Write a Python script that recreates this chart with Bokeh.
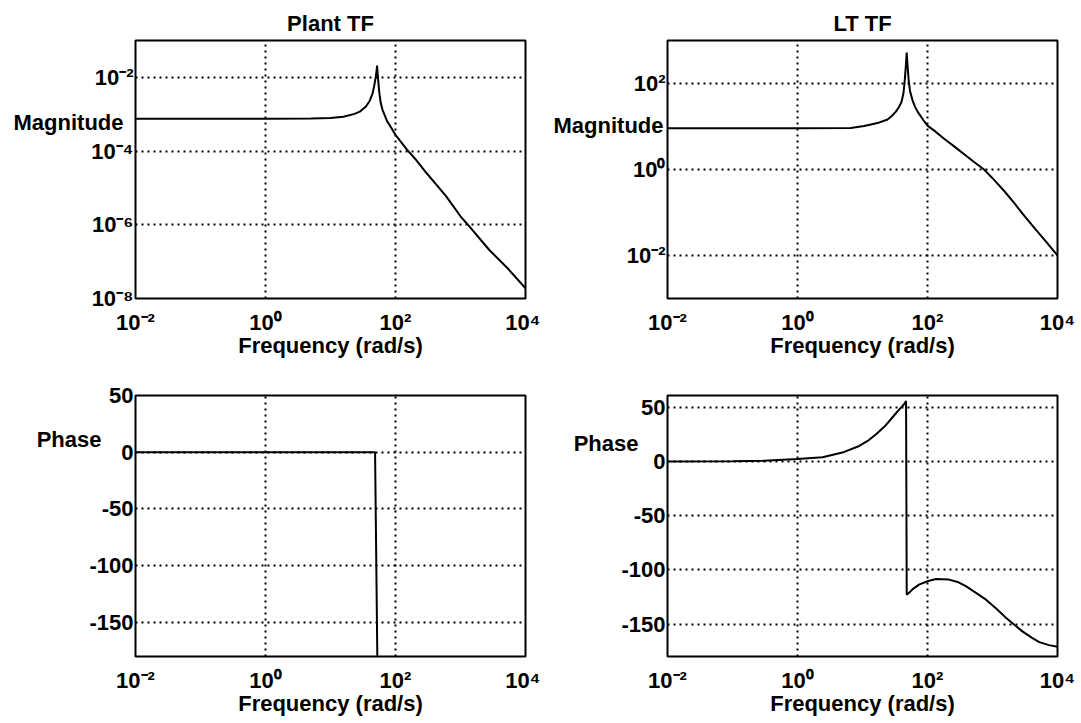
from bokeh.plotting import figure
from bokeh.models import FixedTicker, Range1d, LinearAxis
from bokeh.layouts import gridplot
from bokeh.embed import file_html
from bokeh.resources import INLINE

# ---------------- data ----------------
titles = ["Plant TF", "LT TF"]
x_label = "Frequency (rad/s)"
mag_label = "Magnitude"
phase_label = "Phase"

x_ticks = [1e-2, 1e0, 1e2, 1e4]
x_tick_labels = ["10⁻²", "10⁰", "10²", "10⁴"]

plant_mag_ticks = [1e-8, 1e-6, 1e-4, 1e-2]
plant_mag_tick_labels = ["10⁻⁸", "10⁻⁶", "10⁻⁴", "10⁻²"]
lt_mag_ticks = [1e-2, 1e0, 1e2]
lt_mag_tick_labels = ["10⁻²", "10⁰", "10²"]
phase_ticks = [-150, -100, -50, 0, 50]
phase_tick_labels = ["-150", "-100", "-50", "0", "50"]

plant_mag_freq = [0.01, 1, 5, 10, 15.8, 23.4, 28.2, 35.1, 39.8, 44.4, 46.8,
                  49.8, 51.3, 52.1, 53.1, 54.7, 56.2, 59.3, 63.1, 74.8, 79.4,
                  100, 150, 200, 302, 603, 1000, 1288, 2754, 5495, 10000]
plant_mag = [7.5e-4, 7.5e-4, 7.6e-4, 7.9e-4, 8.5e-4, 1.02e-3, 1.17e-3, 1.62e-3,
             2.24e-3, 3.7e-3, 5.6e-3, 1.05e-2, 1.6e-2, 2.1e-2, 1.3e-2, 6.9e-3,
             4.0e-3, 2.0e-3, 1.32e-3, 6.3e-4, 5.4e-4, 2.75e-4, 1.1e-4, 6.2e-5,
             2.5e-5, 5.9e-6, 1.7e-6, 1.02e-6, 2.1e-7, 6.2e-8, 1.9e-8]

plant_phase_freq = [0.01, 1, 10, 48.5, 52.5]
plant_phase = [0, 0, 0, 0, -180]

lt_mag_freq = [0.01, 1, 6.6, 10.6, 17, 24.3, 28.2, 32.4, 36.3, 39.8, 42.7,
               44.7, 46.8, 47.9, 49.0, 51.3, 54, 58.9, 64, 70.8, 85, 100, 130,
               182, 260, 363, 520, 741, 1050, 1514, 2200, 3090, 4500, 6607,
               10000]
lt_mag = [9.1, 9.1, 9.2, 10.3, 12.0, 14.5, 17.5, 21.9, 28, 37.2, 60,
          120, 300, 525, 300, 120, 65, 40.7, 29, 21.9, 14.5, 10.5, 7.8,
          5.1, 3.4, 2.29, 1.5, 1.0, 0.58, 0.316, 0.16, 0.083, 0.042, 0.0214,
          0.01]

lt_phase_freq = [0.01, 0.1, 0.3, 1.0, 2.43, 4.9, 8.9, 12, 16.2, 22, 28.8, 36,
                 43.7, 46.8, 47.9, 52.5, 60, 74, 100, 135, 214, 300, 389, 550,
                 794, 1150, 1622, 2884, 4000, 5248, 7400, 10000]
lt_phase = [0, 0.3, 0.8, 2.3, 4.0, 8.3, 14.4, 19, 25.3, 32.5, 40.7, 47.5,
            53, 56, -123, -121, -117.5, -113.6, -110.5, -108.4, -109, -111.5,
            -115, -121, -127.5, -136, -144.4, -156.8, -162.5, -166.7, -169.5,
            -171]

# positions of the horizontal side labels (value at their vertical centre)
mag_label_y = [5.8e-4, 10.3]
phase_label_y = [11.4, 16.5]

# ---------------- styling helpers ----------------
FONT = "Liberation Sans"
FS = "22px"


def style_axis(ax):
    ax.axis_line_color = None
    ax.major_tick_line_color = None
    ax.minor_tick_line_color = None
    ax.major_tick_out = 0
    ax.major_tick_in = 0
    ax.minor_tick_out = 0
    ax.minor_tick_in = 0
    ax.major_label_text_font = FONT
    ax.major_label_text_font_size = FS
    ax.major_label_text_font_style = "bold"
    ax.major_label_text_color = "black"


def make_fig(w, h, left, right, top, bottom, ylog, yrange, yticks, ylabels,
             title=None):
    kw = dict(width=w, height=h, x_axis_type="log",
              y_axis_type="log" if ylog else "linear",
              x_range=Range1d(1e-2, 1e4), y_range=Range1d(*yrange),
              output_backend="svg", toolbar_location=None,
              min_border_left=left, min_border_right=right,
              min_border_top=top, min_border_bottom=bottom,
              background_fill_color="white", border_fill_color="white")
    if title is not None:
        kw["title"] = title
    p = figure(**kw)
    if title is not None:
        p.title.align = "center"
        p.title.text_font = FONT
        p.title.text_font_size = FS
        p.title.text_font_style = "bold"
        p.title.text_color = "black"
        p.title.standoff = 10
    p.outline_line_color = "black"
    p.outline_line_width = 2
    p.outline_line_alpha = 1

    p.xaxis.ticker = FixedTicker(ticks=x_ticks)
    p.xaxis.major_label_overrides = dict(zip(x_ticks, x_tick_labels))
    p.yaxis.ticker = FixedTicker(ticks=yticks)
    p.yaxis.major_label_overrides = dict(zip(yticks, ylabels))
    style_axis(p.xaxis[0])
    style_axis(p.yaxis[0])
    p.xaxis.major_label_standoff = 11
    p.yaxis.major_label_standoff = 2
    p.xaxis.axis_label = x_label
    p.xaxis.axis_label_text_font = FONT
    p.xaxis.axis_label_text_font_size = FS
    p.xaxis.axis_label_text_font_style = "bold"
    p.xaxis.axis_label_text_color = "black"
    p.xaxis.axis_label_standoff = -5

    for g in (p.xgrid, p.ygrid):
        g.grid_line_color = "black"
        g.grid_line_dash = "2 4"
        g.grid_line_width = 2
        g.grid_line_alpha = 1
    p.xgrid.ticker = FixedTicker(ticks=x_ticks)
    p.ygrid.ticker = FixedTicker(ticks=yticks)
    return p


def side_label(p, text, y, standoff):
    ax = LinearAxis(ticker=FixedTicker(ticks=[y]),
                    major_label_overrides={y: text})
    style_axis(ax)
    ax.major_label_standoff = standoff
    p.add_layout(ax, "left")


# top-left: plant magnitude
p1 = make_fig(540, 360, 135, 15, 40, 62, True, (1e-8, 1e-1),
              plant_mag_ticks, plant_mag_tick_labels, title=titles[0])
p1.line(plant_mag_freq, plant_mag, line_color="black", line_width=2)
side_label(p1, mag_label, mag_label_y[0], -35)

# top-right: LT magnitude
p2 = make_fig(541, 360, 127, 24, 40, 62, True, (1e-3, 1e3),
              lt_mag_ticks, lt_mag_tick_labels, title=titles[1])
p2.line(lt_mag_freq, lt_mag, line_color="black", line_width=2)
side_label(p2, mag_label, mag_label_y[1], -40)

# bottom-left: plant phase
p3 = make_fig(540, 363, 135, 15, 35, 67, False, (-180, 50),
              phase_ticks, phase_tick_labels)
p3.line(plant_phase_freq, plant_phase, line_color="black", line_width=2)
side_label(p3, phase_label, phase_label_y[0], -15)

# bottom-right: LT phase
p4 = make_fig(541, 363, 127, 24, 35, 67, False, (-180, 61),
              phase_ticks, phase_tick_labels)
p4.line(lt_phase_freq, lt_phase, line_color="black", line_width=2)
side_label(p4, phase_label, phase_label_y[1], -20)

grid = gridplot([[p1, p2], [p3, p4]], toolbar_location=None)

open("out.html", "w").write(file_html(grid, INLINE))
